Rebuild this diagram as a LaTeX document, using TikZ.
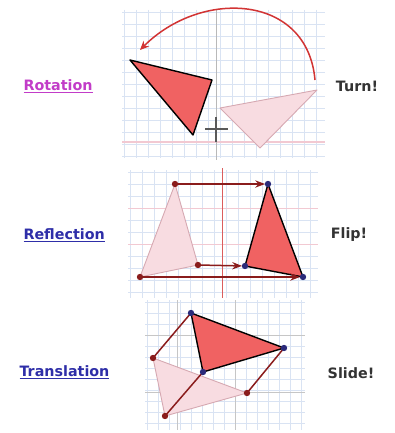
\documentclass[tikz,border=0pt]{standalone}
\usepackage{fontspec}
\setmainfont{DejaVu Sans}
\usetikzlibrary{arrows.meta}
\definecolor{coral}{HTML}{F06262}
\definecolor{blush}{HTML}{F8DCE1}
\definecolor{blushline}{HTML}{D6A9B2}
\definecolor{maroon}{HTML}{8A1C1C}
\definecolor{navy}{HTML}{2B2B7A}
\definecolor{gridblue}{HTML}{D9E3F3}
\definecolor{gridpink}{HTML}{F2C9D2}
\definecolor{orchid}{HTML}{C23CC8}
\definecolor{linkblue}{HTML}{2E2EA8}
\definecolor{arcred}{HTML}{D23434}

\tikzset{
 gridln/.style={gridblue,line width=.6pt},
 axisln/.style={gridpink,line width=1.4pt},
 imagetri/.style={fill=coral,draw=black,line width=1.4pt,line join=round},
 shadowtri/.style={fill=blush,draw=blushline,line width=.9pt,line join=round},
 linkln/.style={maroon,line width=1.5pt},
 dotold/.style={fill=maroon},
 dotnew/.style={fill=navy},
 leftlab/.style={anchor=west,font=\fontsize{14.3}{16}\selectfont\bfseries},
 rightlab/.style={anchor=center,font=\fontsize{14.3}{16}\selectfont\bfseries,text=black!80}
}

\begin{document}
\begin{tikzpicture}[x=1pt,y=-1pt,>=Stealth]
 \useasboundingbox[fill=white](0,0) rectangle (394,433);
 % rotation panel
 \foreach \x in {124,136,...,324} \draw[gridln](\x,10)--(\x,158);
 \foreach \y in {12,24,...,156} \draw[gridln](122,\y)--(325,\y);
 \draw[axisln](122,142)--(325,142);
 \draw[gray!55,line width=.8pt](216,10)--(216,160);
 \coordinate (oA) at (220,108);
 \coordinate (oB) at (317,90);
 \coordinate (oC) at (260,148);
 \coordinate (rA) at (130,60);
 \coordinate (rB) at (212,80);
 \coordinate (rC) at (193,135);
 \coordinate (arcstart) at (315,80);
 \coordinate (arcend) at (140,50);
 \draw[shadowtri](oA)--(oB)--(oC)--cycle;
 \draw[imagetri](rA)--(rB)--(rC)--cycle;
 \draw[black!65,line width=1.6pt](205,129)--(228,129) (216,117)--(216,142);
 \draw[arcred,line width=1.5pt,-{Stealth[length=9pt,width=8pt]}](arcstart) to[out=95,in=45,looseness=1.25](arcend);
 \node[leftlab,text=orchid](rotlab) at (20,86){\underline{Rotation}};
 \node[rightlab](turnlab) at (357,86){Turn!};
 % reflection panel
 \foreach \x in {130,142,...,318} \draw[gridln](\x,170)--(\x,298);
 \foreach \y in {172,184,...,296} \draw[gridln](128,\y)--(318,\y);
 \foreach \y in {208,244} \draw[gridpink,line width=.6pt](128,\y)--(318,\y);
 \draw[arcred!80,line width=.9pt](222,168)--(222,298);
 \coordinate (fA) at (175,184);
 \coordinate (fB) at (140,277);
 \coordinate (fC) at (198,265);
 \coordinate (gA) at (268,184);
 \coordinate (gB) at (303,277);
 \coordinate (gC) at (245,266);
 \draw[shadowtri](fA)--(fB)--(fC)--cycle;
 \draw[imagetri](gA)--(gB)--(gC)--cycle;
 \foreach \p/\q in {fA/gA,fC/gC,fB/gB}
  \draw[linkln,->,shorten >=3pt](\p)--(\q);
 \foreach \p in {fA,fB,fC} \fill[dotold](\p)circle(3.2);
 \foreach \p in {gA,gB,gC} \fill[dotnew](\p)circle(3.2);
 \node[leftlab,text=linkblue](reflab) at (20,235){\underline{Reflection}};
 \node[rightlab](fliplab) at (349,235){Flip!};
 % translation panel
 \foreach \x in {147,158,...,305} \draw[gridln](\x,300)--(\x,430);
 \foreach \y in {302,313,...,430} \draw[gridln](145,\y)--(305,\y);
 \foreach \x in {177,235} \draw[gray!45,line width=.7pt](\x,300)--(\x,430);
 \foreach \y in {335,392} \draw[gray!45,line width=.7pt](145,\y)--(305,\y);
 \coordinate (sA) at (153,358);
 \coordinate (sB) at (247,393);
 \coordinate (sC) at (165,416);
 \coordinate (tA) at (191,313);
 \coordinate (tB) at (284,348);
 \coordinate (tC) at (203,372);
 \draw[shadowtri](sA)--(sB)--(sC)--cycle;
 \foreach \p/\q in {sA/tA,sB/tB,sC/tC} \draw[linkln](\p)--(\q);
 \draw[imagetri](tA)--(tB)--(tC)--cycle;
 \foreach \p in {sA,sB,sC} \fill[dotold](\p)circle(3.2);
 \foreach \p in {tA,tB,tC} \fill[dotnew](\p)circle(3.2);
 \node[leftlab,text=linkblue](translab) at (16,372){\underline{Translation}};
 \node[rightlab](slidelab) at (351,373){Slide!};
\end{tikzpicture}
\end{document}
